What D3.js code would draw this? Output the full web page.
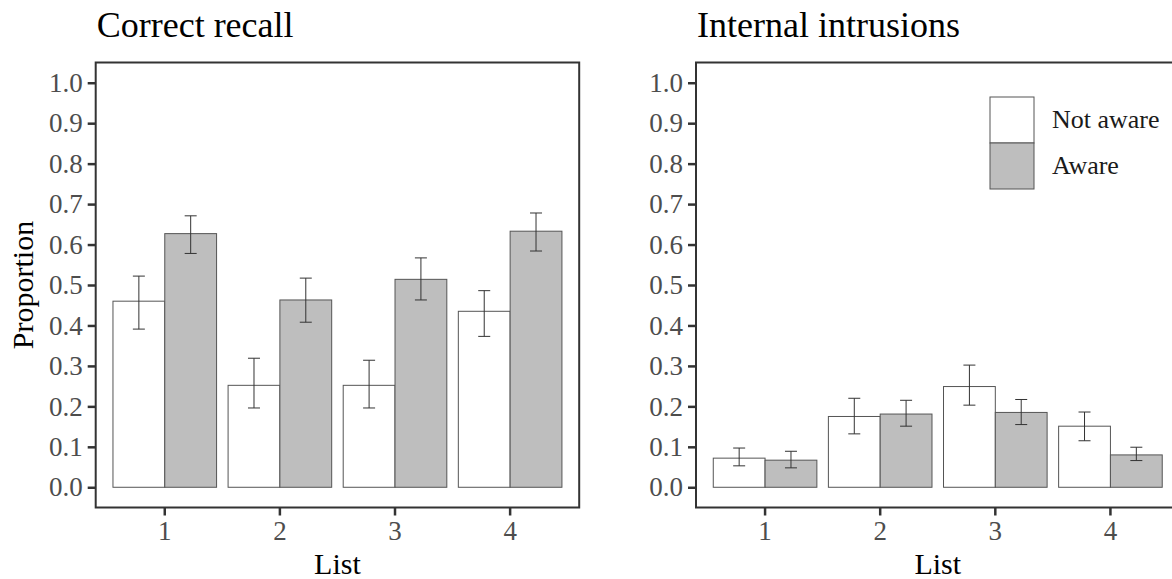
<!DOCTYPE html>
<html>
<head>
<meta charset="utf-8">
<script src="https://cdn.jsdelivr.net/npm/d3@7"></script>
<style>
  body { margin: 0; background: #fff; }
  svg { display: block; font-family: "Liberation Serif", "Times New Roman", serif; }
</style>
</head>
<body>
<div id="chart"></div>
<script>
// lists on the x axis and the two groups
var lists = ["1", "2", "3", "4"];
var groups = ["Not aware", "Aware"];
var yTicks = [0, 0.1, 0.2, 0.3, 0.4, 0.5, 0.6, 0.7, 0.8, 0.9, 1.0];

// Correct recall - means and error bar ends
var recallNotAware = [0.46, 0.252, 0.252, 0.435];
var recallNotAwareLo = [0.391, 0.196, 0.196, 0.373];
var recallNotAwareHi = [0.522, 0.319, 0.314, 0.486];
var recallAware = [0.627, 0.463, 0.514, 0.633];
var recallAwareLo = [0.578, 0.408, 0.463, 0.584];
var recallAwareHi = [0.671, 0.517, 0.567, 0.678];

// Internal intrusions
var intrNotAware = [0.072, 0.175, 0.249, 0.151];
var intrNotAwareLo = [0.053, 0.132, 0.203, 0.115];
var intrNotAwareHi = [0.097, 0.22, 0.302, 0.186];
var intrAware = [0.067, 0.181, 0.185, 0.08];
var intrAwareLo = [0.048, 0.151, 0.155, 0.066];
var intrAwareHi = [0.089, 0.215, 0.217, 0.099];

var width = 1172,
    height = 579;

var fills = { "Not aware": "#ffffff", "Aware": "#bebebe" };

var svg = d3.select("#chart")
  .append("svg")
  .attr("width", width)
  .attr("height", height);

// build rows for one panel
function rows(na, naLo, naHi, aw, awLo, awHi) {
  var out = [];
  lists.forEach(function(l, i) {
    out.push({ list: l, group: "Not aware", value: na[i], lo: naLo[i], hi: naHi[i] });
    out.push({ list: l, group: "Aware", value: aw[i], lo: awLo[i], hi: awHi[i] });
  });
  return out;
}

function drawPanel(left, title, data, showYTitle, showLegend) {
  var top = 62.5, bottom = 507.5, right = left + 483.5;

  var x = d3.scaleBand().domain(lists).range([left, right])
    .paddingInner(0.1).paddingOuter(0.15);
  var xg = d3.scaleBand().domain(groups).range([0, x.bandwidth()]);
  var y = d3.scaleLinear().domain([-0.05, 1.05]).range([bottom, top]);

  var g = svg.append("g");

  // bars
  g.selectAll("rect.bar")
    .data(data)
    .enter()
    .append("rect")
    .attr("class", "bar")
    .attr("x", function(d) { return x(d.list) + xg(d.group); })
    .attr("width", xg.bandwidth())
    .attr("y", function(d) { return y(d.value); })
    .attr("height", function(d) { return y(0) - y(d.value); })
    .style("fill", function(d) { return fills[d.group]; })
    .style("stroke", "#555")
    .style("stroke-width", 1);

  // error bars
  var capHalf = 6;
  var eb = g.selectAll("g.err")
    .data(data)
    .enter()
    .append("g")
    .attr("class", "err")
    .attr("transform", function(d) {
      return "translate(" + (x(d.list) + xg(d.group) + xg.bandwidth() / 2) + ",0)";
    })
    .style("stroke", "#333")
    .style("stroke-width", 1);
  eb.append("line")
    .attr("y1", function(d) { return y(d.lo); })
    .attr("y2", function(d) { return y(d.hi); });
  eb.append("line")
    .attr("x1", -capHalf).attr("x2", capHalf)
    .attr("y1", function(d) { return y(d.lo); })
    .attr("y2", function(d) { return y(d.lo); });
  eb.append("line")
    .attr("x1", -capHalf).attr("x2", capHalf)
    .attr("y1", function(d) { return y(d.hi); })
    .attr("y2", function(d) { return y(d.hi); });

  // panel border
  g.append("rect")
    .attr("x", left).attr("y", top)
    .attr("width", right - left).attr("height", bottom - top)
    .style("fill", "none")
    .style("stroke", "#333")
    .style("stroke-width", 2);

  // axes
  var yAxis = g.append("g")
    .attr("transform", "translate(" + left + ",0)")
    .call(d3.axisLeft(y).tickValues(yTicks).tickFormat(d3.format(".1f"))
      .tickSize(8).tickSizeOuter(0).tickPadding(5));
  var xAxis = g.append("g")
    .attr("transform", "translate(0," + bottom + ")")
    .call(d3.axisBottom(x).tickSize(8).tickSizeOuter(0).tickPadding(5));

  [yAxis, xAxis].forEach(function(a) {
    a.select(".domain").remove();
    a.selectAll(".tick line").style("stroke", "#333").style("stroke-width", 2.5);
    a.selectAll(".tick text")
      .style("font-family", "'Liberation Serif', 'Times New Roman', serif")
      .style("font-size", "27px")
      .style("fill", "#4d4d4d");
  });

  // titles
  g.append("text")
    .attr("x", left + 1).attr("y", 37)
    .style("font-size", "36px")
    .style("fill", "#000")
    .text(title);

  g.append("text")
    .attr("x", (left + right) / 2).attr("y", 574)
    .attr("text-anchor", "middle")
    .style("font-size", "30px")
    .text("List");

  if (showYTitle) {
    g.append("text")
      .attr("transform", "translate(33," + y(0.5) + ") rotate(-90)")
      .attr("text-anchor", "middle")
      .style("font-size", "30px")
      .text("Proportion");
  }

  if (showLegend) {
    var leg = g.append("g").attr("transform", "translate(990,97)");
    var item = leg.selectAll("g")
      .data(groups)
      .enter()
      .append("g")
      .attr("transform", function(d, i) { return "translate(0," + (i * 46) + ")"; });
    item.append("rect")
      .attr("width", 44).attr("height", 46)
      .style("fill", function(d) { return fills[d]; })
      .style("stroke", "#555")
      .style("stroke-width", 1);
    item.append("text")
      .attr("x", 62).attr("y", 31)
      .style("font-size", "26px")
      .style("fill", "#1a1a1a")
      .text(function(d) { return d; });
  }
}

drawPanel(95.7, "Correct recall",
  rows(recallNotAware, recallNotAwareLo, recallNotAwareHi, recallAware, recallAwareLo, recallAwareHi),
  true, false);
drawPanel(696, "Internal intrusions",
  rows(intrNotAware, intrNotAwareLo, intrNotAwareHi, intrAware, intrAwareLo, intrAwareHi),
  false, true);
</script>
</body>
</html>
